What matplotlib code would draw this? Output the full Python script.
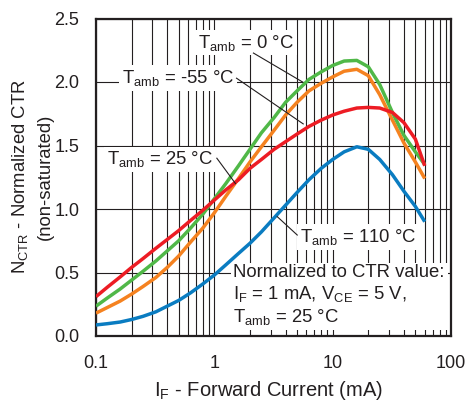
import matplotlib
matplotlib.use("Agg")
import matplotlib.pyplot as plt

plt.rcParams['font.family'] = ['Liberation Sans', 'DejaVu Sans']
plt.rcParams['mathtext.fontset'] = 'custom'
plt.rcParams['mathtext.rm'] = 'Liberation Sans'
plt.rcParams['mathtext.it'] = 'Liberation Sans:italic'
plt.rcParams['mathtext.bf'] = 'Liberation Sans:bold'

TXT = '#231f20'

# forward current (mA)
i_f = [0.1, 0.125, 0.16, 0.2, 0.25, 0.32, 0.4, 0.5, 0.63, 0.8,
       1, 1.25, 1.6, 2, 2.5, 3.2, 4, 5, 6.3, 8,
       10, 12.5, 16, 20, 25, 32, 40, 50, 60]

# normalized CTR per ambient temperature
ctr_m55 = [0.18, 0.225, 0.275, 0.33, 0.39, 0.46, 0.54, 0.63, 0.74, 0.85,
           0.97, 1.10, 1.24, 1.37, 1.49, 1.62, 1.74, 1.84, 1.93, 1.99,
           2.04, 2.085, 2.10, 2.05, 1.90, 1.70, 1.52, 1.37, 1.24]
ctr_0 = [0.235, 0.30, 0.37, 0.44, 0.51, 0.59, 0.67, 0.75, 0.85, 0.96,
         1.08, 1.20, 1.34, 1.47, 1.60, 1.72, 1.84, 1.93, 2.02, 2.08,
         2.13, 2.165, 2.17, 2.12, 1.98, 1.76, 1.58, 1.45, 1.35]
ctr_25 = [0.31, 0.385, 0.465, 0.54, 0.61, 0.69, 0.76, 0.83, 0.91, 0.99,
          1.07, 1.15, 1.23, 1.32, 1.39, 1.47, 1.53, 1.59, 1.65, 1.70,
          1.74, 1.77, 1.795, 1.80, 1.795, 1.76, 1.68, 1.55, 1.34]
ctr_110 = [0.087, 0.097, 0.11, 0.13, 0.155, 0.19, 0.235, 0.28, 0.34, 0.41,
           0.48, 0.56, 0.65, 0.73, 0.82, 0.93, 1.03, 1.13, 1.23, 1.32,
           1.39, 1.45, 1.49, 1.47, 1.39, 1.27, 1.14, 1.02, 0.90]

series = [
    (ctr_110, '#0a7cc1'),
    (ctr_m55, '#f58220'),
    (ctr_0, '#50b848'),
    (ctr_25, '#ed1c24'),
]

x_ticks = [0.1, 1, 10, 100]
x_tick_labels = ['0.1', '1', '10', '100']
y_ticks = [0.0, 0.5, 1.0, 1.5, 2.0, 2.5]

fig = plt.figure(figsize=(4.68, 4.09), dpi=100)
ax = fig.add_axes([96 / 468, 1 - 336 / 409, 355 / 468, 317.5 / 409])

for vals, col in series:
    ax.plot(i_f, vals, color=col, lw=2.5, solid_capstyle='butt',
            solid_joinstyle='round', zorder=4)

ax.set_xscale('log')
ax.set_xlim(0.1, 100)
ax.set_ylim(0, 2.5)
ax.set_xticks(x_ticks)
ax.set_xticklabels(x_tick_labels)
ax.set_yticks(y_ticks)
ax.set_yticklabels([f'{v:.1f}' for v in y_ticks])
ax.grid(True, which='major', color=TXT, lw=0.8, zorder=1)
ax.grid(True, which='minor', axis='x', color=TXT, lw=0.8, zorder=1)
ax.set_axisbelow(True)
ax.tick_params(which='both', length=0, labelsize=13, colors=TXT)
ax.tick_params(axis='x', pad=14)
ax.tick_params(axis='y', pad=12)
for s in ax.spines.values():
    s.set_linewidth(1.6)
    s.set_color(TXT)

box = dict(fc='white', ec='none', pad=2)
fs = 13.3

# labels and leader lines
ax.text(0.73, 2.31, r'$\mathregular{T_{amb}}$ = 0 °C', fontsize=fs, color=TXT,
        va='center', ha='left', bbox=box, zorder=3)
ax.plot([2.14, 5.57], [2.228, 2.0], color=TXT, lw=0.8, zorder=5)

ax.text(0.166, 2.03, r'$\mathregular{T_{amb}}$ = -55 °C', fontsize=fs, color=TXT,
        va='center', ha='left', bbox=box, zorder=3)
ax.plot([1.54, 5.64], [2.03, 1.67], color=TXT, lw=0.8, zorder=5)

ax.text(0.124, 1.39, r'$\mathregular{T_{amb}}$ = 25 °C', fontsize=fs, color=TXT,
        va='center', ha='left', bbox=box, zorder=3)
ax.plot([1.05, 1.51], [1.40, 1.20], color=TXT, lw=0.8, zorder=5)

ax.text(5.25, 0.78, r'$\mathregular{T_{amb}}$ = 110 °C', fontsize=fs, color=TXT,
        va='center', ha='left', bbox=box, zorder=3)
ax.plot([5.02, 3.4], [0.795, 0.94], color=TXT, lw=0.8, zorder=5)

ax.text(1.45, 0.315,
        'Normalized to CTR value:\n'
        r'$\mathregular{I_F}$ = 1 mA, $\mathregular{V_{CE}}$ = 5 V,' '\n'
        r'$\mathregular{T_{amb}}$ = 25 °C',
        fontsize=fs, color=TXT, va='center', ha='left', linespacing=1.2,
        bbox=box, zorder=3)

# axis titles
fig.text(20 / 468, 1 - 177 / 409, r'$\mathregular{N_{CTR}}$ - Normalized CTR', rotation=90,
         fontsize=fs, color=TXT, ha='center', va='center')
fig.text(45 / 468, 1 - 177 / 409, '(non-saturated)', rotation=90,
         fontsize=fs, color=TXT, ha='center', va='center')
fig.text(269 / 468, 1 - 391 / 409, r'$\mathregular{I_F}$ - Forward Current (mA)',
         fontsize=14.5, color=TXT, ha='center', va='center')

fig.savefig('out.png', dpi=100)
